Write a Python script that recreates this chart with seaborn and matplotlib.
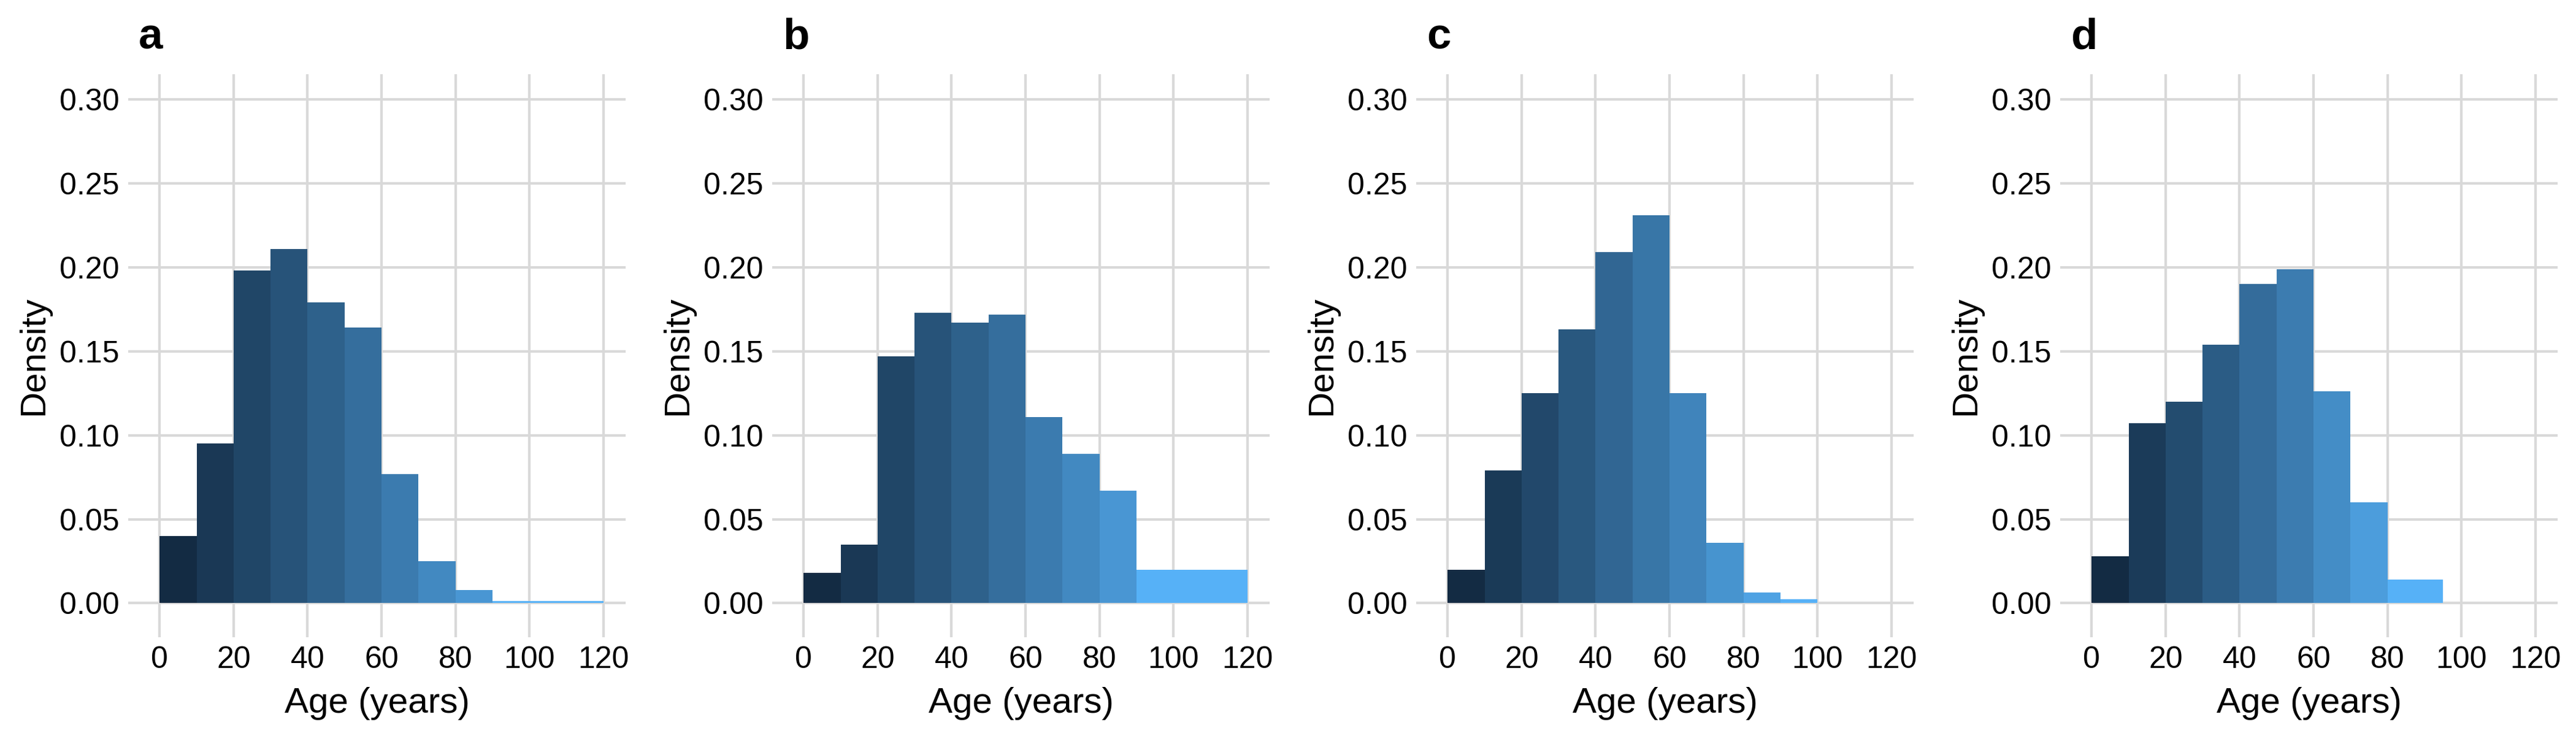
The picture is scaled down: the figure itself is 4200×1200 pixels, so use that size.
import numpy as np
import pandas as pd
import seaborn as sns
import matplotlib.pyplot as plt
from matplotlib.colors import LinearSegmentedColormap

# bin edges (years) and bar heights (share of patients per bin) for each panel
panel_tags = ['a', 'b', 'c', 'd']

edges_a = [0, 10, 20, 30, 40, 50, 60, 70, 80, 90, 120]
density_a = [0.040, 0.095, 0.198, 0.211, 0.179, 0.164, 0.077, 0.025, 0.008, 0.0013]

edges_b = [0, 10, 20, 30, 40, 50, 60, 70, 80, 90, 120]
density_b = [0.018, 0.035, 0.147, 0.173, 0.167, 0.172, 0.111, 0.089, 0.067, 0.020]

edges_c = [0, 10, 20, 30, 40, 50, 60, 70, 80, 90, 100]
density_c = [0.020, 0.079, 0.125, 0.163, 0.209, 0.231, 0.125, 0.036, 0.0064, 0.0022]

edges_d = [0, 10, 20, 30, 40, 50, 60, 70, 80, 95]
density_d = [0.028, 0.107, 0.120, 0.154, 0.190, 0.199, 0.126, 0.060, 0.014]

x_ticks = [0, 20, 40, 60, 80, 100, 120]
y_ticks = [0.00, 0.05, 0.10, 0.15, 0.20, 0.25, 0.30]

panels = [
    (edges_a, density_a),
    (edges_b, density_b),
    (edges_c, density_c),
    (edges_d, density_d),
]

# ggplot-like default continuous fill
gg_fill = LinearSegmentedColormap.from_list('gg_fill', ['#132B43', '#56B1F7'])

sns.set_style('white')
plt.rcParams['font.family'] = ['Liberation Sans', 'DejaVu Sans']
plt.rcParams['text.color'] = 'black'
plt.rcParams['axes.labelcolor'] = 'black'

W, H = 4200, 1200
fig = plt.figure(figsize=(14, 4), dpi=300)

for i, (tag, (edges, dens)) in enumerate(zip(panel_tags, panels)):
    off = 1050 * i
    ax = fig.add_axes([(209 + off) / W, (H - 1039) / H, 811 / W, 918 / H])

    e = np.array(edges, dtype=float)
    centers = (e[:-1] + e[1:]) / 2
    df = pd.DataFrame({'age': centers, 'density': dens})

    sns.histplot(df, x='age', weights='density', bins=list(edges), hue='age',
                 palette=gg_fill, hue_norm=(centers.min(), centers.max()),
                 multiple='layer', alpha=1, linewidth=0, legend=False, ax=ax)

    ax.set_xlim(-8.5, 126)
    ax.set_ylim(-0.0203, 0.315)
    ax.set_xticks(x_ticks)
    ax.set_yticks(y_ticks)
    ax.set_yticklabels([f'{v:.2f}' for v in y_ticks])

    ax.grid(True, color='#D9D9D9', linewidth=1.0)
    ax.set_axisbelow(True)
    for s in ax.spines.values():
        s.set_visible(False)
    ax.tick_params(length=0, labelsize=12, pad=3.4, colors='black')

    ax.set_xlabel('Age (years)', fontsize=14, labelpad=5, color='black')
    ax.set_ylabel('Density', fontsize=14, labelpad=3.5, color='black')

    ax.text(17 / 811, 1.0447, tag, transform=ax.transAxes, fontsize=17,
            fontweight='bold', va='baseline', ha='left', color='black')

fig.savefig('out.png', dpi=300)
